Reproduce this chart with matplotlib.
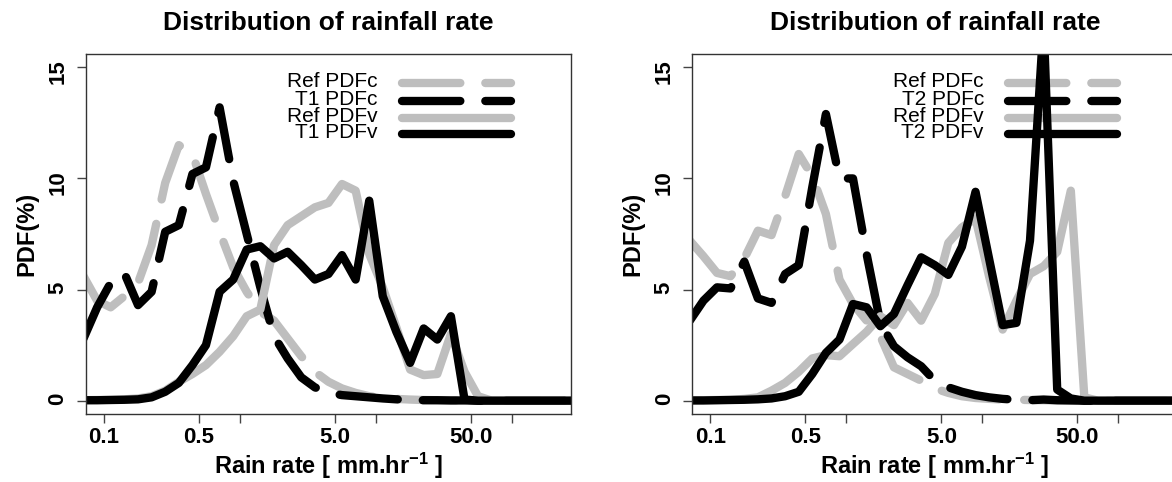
#!/usr/bin/env python
# -*- coding: utf-8 -*-

import matplotlib
matplotlib.use("Agg")
from matplotlib import rcParams
import matplotlib.pyplot as plt

# rain rate bin centres [mm/hr], 10 bins per decade
rain_rate = [0.0708, 0.0891, 0.112, 0.141, 0.178, 0.224, 0.282, 0.355, 0.447,
             0.562, 0.708, 0.891, 1.12, 1.41, 1.78, 2.24, 2.82, 3.55, 4.47,
             5.62, 7.08, 8.91, 11.2, 14.1, 17.8, 22.4, 28.2, 35.5, 44.7,
             56.2, 70.8, 89.1, 112, 141, 178, 224, 282]

# left panel: reference vs T1
ref_pdfc_1 = [5.6, 4.5, 4.2, 4.7, 5.3, 7.0, 9.8, 11.5, 11.1, 9.3, 7.6, 6.0,
              4.9, 4.0, 3.6, 2.8, 2.0, 1.3, 0.85, 0.55, 0.35, 0.2, 0.12, 0.08,
              0.05, 0.03, 0.02, 0.01, 0.01, 0, 0, 0, 0, 0, 0, 0, 0]
t1_pdfc = [2.8, 4.2, 5.3, 5.75, 4.3, 4.9, 7.6, 7.9, 10.2, 10.5, 13.2, 9.9,
           7.5, 5.1, 2.9, 1.9, 1.05, 0.6, 0.35, 0.25, 0.2, 0.15, 0.1, 0.06,
           0.03, 0.02, 0.02, 0.01, 0.01, 0, 0, 0, 0, 0, 0, 0, 0]
ref_pdfv_1 = [0.02, 0.03, 0.04, 0.06, 0.1, 0.2, 0.45, 0.85, 1.2, 1.6, 2.2, 2.9,
              3.8, 4.1, 7.0, 7.9, 8.3, 8.7, 8.9, 9.75, 9.45, 6.6, 5.1, 3.3,
              1.4, 1.15, 1.2, 3.0, 1.3, 0.2, 0, 0, 0, 0, 0, 0, 0]
t1_pdfv = [0.02, 0.02, 0.03, 0.04, 0.06, 0.15, 0.4, 0.8, 1.6, 2.5, 4.9, 5.45,
           6.8, 6.95, 6.4, 6.7, 6.1, 5.45, 5.7, 6.55, 5.45, 9.0, 4.7, 3.1,
           1.7, 3.25, 2.75, 3.8, 0.05, 0, 0, 0, 0, 0, 0, 0, 0]

# right panel: reference vs T2
ref_pdfc_2 = [7.2, 6.5, 5.75, 5.6, 6.4, 7.65, 7.45, 9.2, 11.1, 10.1, 8.4, 5.45,
              4.35, 3.6, 2.9, 1.5, 1.2, 0.9, 0.55, 0.35, 0.2, 0.12, 0.08, 0.05,
              0.04, 0.03, 0.02, 0.01, 0.01, 0, 0, 0, 0, 0, 0, 0, 0]
t2_pdfc = [3.6, 4.5, 5.1, 5.05, 6.26, 4.6, 4.4, 5.7, 6.1, 9.6, 12.9, 10.0,
           10.0, 6.6, 3.5, 2.45, 1.95, 1.55, 0.9, 0.6, 0.4, 0.25, 0.15, 0.08,
           0.04, 0.02, 0.05, 0.02, 0.01, 0, 0, 0, 0, 0, 0, 0, 0]
ref_pdfv_2 = [0.01, 0.02, 0.03, 0.04, 0.08, 0.15, 0.45, 0.8, 1.3, 1.9, 2.05,
              2.0, 2.55, 3.1, 3.8, 3.4, 4.4, 3.6, 4.8, 7.1, 7.8, 8.2, 5.6, 3.2,
              4.5, 5.7, 6.05, 6.7, 9.45, 0.15, 0, 0, 0, 0, 0, 0, 0]
t2_pdfv = [0.01, 0.01, 0.02, 0.03, 0.04, 0.06, 0.1, 0.2, 0.4, 1.2, 2.15, 2.75,
           4.35, 4.2, 3.35, 3.9, 5.2, 6.45, 6.1, 5.66, 6.93, 9.4, 6.4, 3.4,
           3.5, 7.2, 17.0, 0.5, 0.1, 0, 0, 0, 0, 0, 0, 0, 0]

x_ticks = [0.1, 0.5, 1, 5, 10, 50, 100]
x_ticklabels = ["0.1", "0.5", "", "5.0", "", "50.0", ""]
y_ticks = [0, 5, 10, 15]

GREY = "#bebebe"
LW = 6
LONGDASH = (0, (7, 3))

W, H = 1172, 482


def draw_key(ax, labels, styles):
    """ R style legend without box, text right aligned left of the lines """
    rows = [0.919, 0.870, 0.823, 0.777]
    for label, (color, ls), y in zip(labels, styles, rows):
        ax.text(0.601, y + 0.004, label, transform=ax.transAxes, ha="right",
                va="center", fontsize=15, zorder=1)
        ax.plot([0.651, 0.876], [y, y], transform=ax.transAxes, color=color,
                lw=LW, linestyle=ls, solid_capstyle="round",
                dash_capstyle="round", zorder=1)


def draw_panel(ax, series, labels):
    styles = [(GREY, LONGDASH), ("black", LONGDASH), (GREY, "-"), ("black", "-")]

    draw_key(ax, labels, styles)

    for values, (color, ls) in zip(series, styles):
        ax.plot(rain_rate, values, color=color, lw=LW, linestyle=ls,
                solid_capstyle="round", dash_capstyle="round",
                solid_joinstyle="round", dash_joinstyle="round", zorder=2)

    ax.set_xscale("log")
    ax.set_xlim(10 ** -1.132, 10 ** 2.433)
    ax.set_ylim(-0.6, 15.6)
    ax.set_xticks(x_ticks)
    ax.set_xticklabels(x_ticklabels)
    ax.minorticks_off()
    ax.set_yticks(y_ticks)
    ax.set_yticklabels([str(v) for v in y_ticks])
    ax.tick_params(axis="both", direction="out", length=6.2, width=1,
                   color="#444444", labelsize=16)
    ax.tick_params(axis="x", pad=3.5)
    ax.tick_params(axis="y", pad=6.5, labelrotation=90)
    for lab in ax.get_xticklabels() + ax.get_yticklabels():
        lab.set_fontweight("bold")
    for sp in ax.spines.values():
        sp.set_color("#333333")
        sp.set_linewidth(1)

    ax.text(0.5, 1.067, "Distribution of rainfall rate", transform=ax.transAxes,
            ha="center", va="baseline", fontsize=19, fontweight="bold")
    ax.text(0.5, -0.167, r"Rain rate [ mm.hr$^{-1}$ ]", transform=ax.transAxes,
            ha="center", va="baseline", fontsize=17, fontweight="bold")
    ax.text(-0.109, 0.5, "PDF(%)", transform=ax.transAxes, rotation=90,
            rotation_mode="anchor", ha="center", va="baseline",
            fontsize=17, fontweight="bold")


def main():
    rcParams["font.family"] = ["Liberation Sans", "DejaVu Sans"]
    rcParams["mathtext.fontset"] = "custom"
    rcParams["mathtext.rm"] = "Liberation Sans"
    rcParams["mathtext.default"] = "regular"

    fig = plt.figure(figsize=(W / 100, H / 100), dpi=100)
    bottom, height = (H - 414) / H, 360 / H
    ax1 = fig.add_axes([86 / W, bottom, 485 / W, height])
    ax2 = fig.add_axes([692.3 / W, bottom, 485 / W, height])

    draw_panel(ax1, [ref_pdfc_1, t1_pdfc, ref_pdfv_1, t1_pdfv],
               ["Ref PDFc", "T1 PDFc", "Ref PDFv", "T1 PDFv"])
    draw_panel(ax2, [ref_pdfc_2, t2_pdfc, ref_pdfv_2, t2_pdfv],
               ["Ref PDFc", "T2 PDFc", "Ref PDFv", "T2 PDFv"])

    fig.savefig("out.png", dpi=100)


if __name__ == "__main__":
    main()
